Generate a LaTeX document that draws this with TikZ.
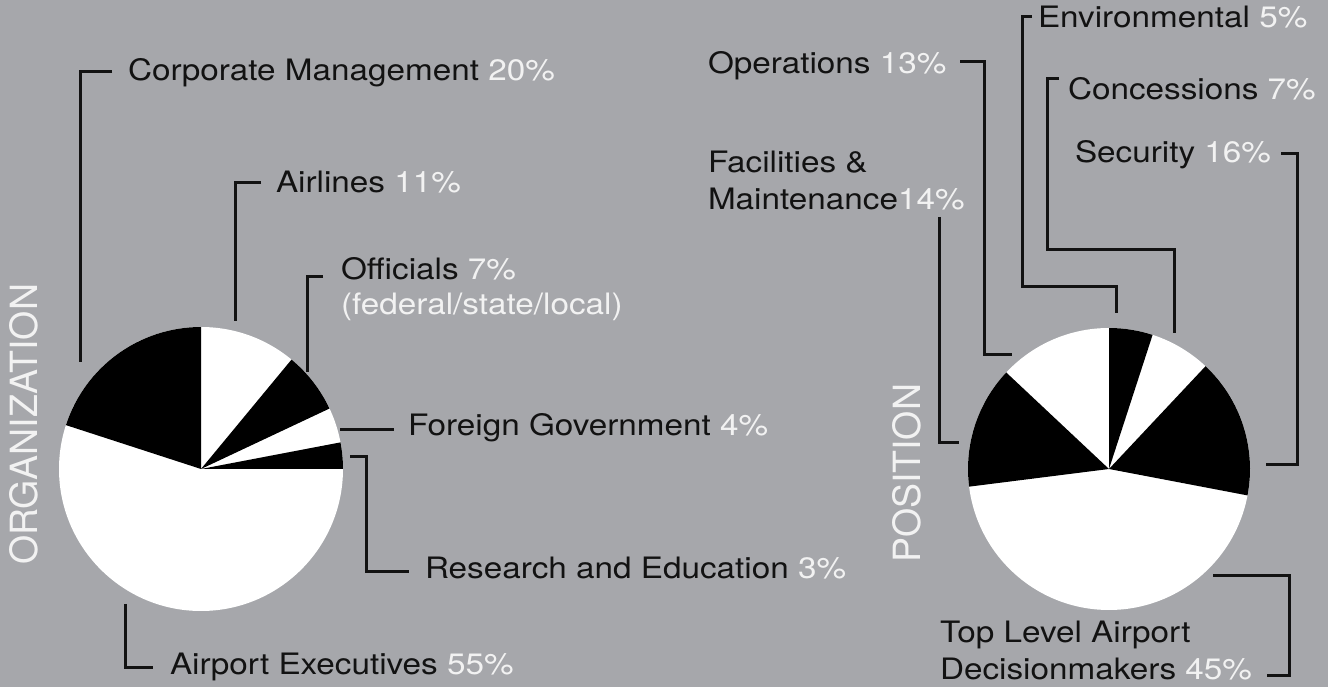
\documentclass[tikz,border=0pt]{standalone}
\usepackage{fontspec}
\newfontfamily\lblfont{TeX Gyre Heros}[FakeStretch=1.128]
\newfontfamily\ttlfont{TeX Gyre Heros}
\definecolor{bg}{RGB}{166,167,171}
\definecolor{ink}{RGB}{18,18,18}
\definecolor{pct}{RGB}{242,242,242}
\tikzset{
  lbl/.style={anchor=base west, inner sep=0pt, outer sep=0pt, text=ink, font=\lblfont\fontsize{29.5}{37}\selectfont},
  ttl/.style={anchor=base west, inner sep=0pt, outer sep=0pt, text=pct, rotate=90, font=\ttlfont\fontsize{37.5}{40}\selectfont},
  lead/.style={draw=ink, line width=3pt, line join=miter},
  wedge/.style={fill=black},
  disc/.style={fill=white}
}
\newcommand{\pc}[1]{\textcolor{pct}{#1}}
\begin{document}
\begin{tikzpicture}[x=1pt,y=1pt]
\fill[bg] (0,0) rectangle (1328,687);
\useasboundingbox (0,0) rectangle (1328,687);

% ---------- left pie ----------
\coordinate (lc) at (201,218);
\fill[disc] (lc) circle[radius=142];
\fill[wedge] (lc) -- ++(25.2:142) arc[start angle=25.2, end angle=50.4, radius=142] -- cycle;
\fill[wedge] (lc) -- ++(0:142) arc[start angle=0, end angle=10.8, radius=142] -- cycle;
\fill[wedge] (lc) -- ++(90:142) arc[start angle=90, end angle=162, radius=142] -- cycle;

% ---------- right pie ----------
\coordinate (rc) at (1109,218);
\fill[disc] (rc) circle[radius=141];
\fill[wedge] (rc) -- ++(72:141) arc[start angle=72, end angle=90, radius=141] -- cycle;
\fill[wedge] (rc) -- ++(-10.8:141) arc[start angle=-10.8, end angle=46.8, radius=141] -- cycle;
\fill[wedge] (rc) -- ++(136.8:141) arc[start angle=136.8, end angle=187.2, radius=141] -- cycle;

% ---------- titles ----------
\node[ttl] (org) at (37,122) {ORGANIZATION};
\node[ttl] (pos) at (920,124) {POSITION};

% ---------- left labels ----------
\node[lbl] (corp) at (128,606) {Corporate Management \pc{20\%}};
\node[lbl] (air) at (276,494) {Airlines \pc{11\%}};
\node[lbl] (off) at (341,407) {Officials \pc{7\%}};
\node[lbl] (offb) at (341,372) {\pc{(federal/state/local)}};
\node[lbl] (for) at (408,251) {Foreign Government \pc{4\%}};
\node[lbl] (res) at (425,108) {Research and Education \pc{3\%}};
\node[lbl] (aex) at (170,12) {Airport Executives \pc{55\%}};

% ---------- right labels ----------
\node[lbl] (ops) at (708,613) {Operations \pc{13\%}};
\node[lbl] (env) at (1038,659) {Environmental \pc{5\%}};
\node[lbl] (con) at (1068,587) {Concessions \pc{7\%}};
\node[lbl] (sec) at (1075,524) {Security \pc{16\%}};
\node[lbl] (fac) at (708,514) {Facilities \&};
\node[lbl] (facb) at (708,477) {Maintenance\pc{14\%}};
\node[lbl] (top) at (940,44) {Top Level Airport};
\node[lbl] (topb) at (940,7) {Decisionmakers \pc{45\%}};

% ---------- leader end points ----------
\coordinate (corpT) at (112,615); \coordinate (corpS) at (80,325);
\coordinate (airT) at (261,504);  \coordinate (airS) at (235,366);
\coordinate (offT) at (323,410);  \coordinate (offS) at (307,315);
\coordinate (forT) at (394,257);  \coordinate (forS) at (340,257);
\coordinate (resT) at (409,115);  \coordinate (resS) at (350,230); \coordinate (resM) at (366,230);
\coordinate (aexT) at (153,19);   \coordinate (aexS) at (125,83);

\coordinate (envT) at (1032,670); \coordinate (envM) at (1022,400); \coordinate (envS) at (1116,374);
\coordinate (conT) at (1059,608); \coordinate (conM) at (1047,437); \coordinate (conS) at (1174,354);
\coordinate (secT) at (1281,533); \coordinate (secS) at (1266,222);
\coordinate (opsT) at (960,625);  \coordinate (opsS) at (1012,332);
\coordinate (facT) at (939,470);  \coordinate (facS) at (959,244);
\coordinate (topT) at (1267,11);  \coordinate (topS) at (1213,111);

% ---------- leaders ----------
\draw[lead] (corpT) -| (corpS);
\draw[lead] (airT) -| (airS);
\draw[lead] (offT) -| (offS);
\draw[lead] (forS) -- (forT);
\draw[lead] (resS) -- (resM) |- (resT);
\draw[lead] (aexS) |- (aexT);

\draw[lead] (envT) -| (envM) -| (envS);
\draw[lead] (conT) -| (conM) -| (conS);
\draw[lead] (secT) -| (1297,222) -- (secS);
\draw[lead] (opsT) -| (984,332) -- (opsS);
\draw[lead] (facT) |- (facS);
\draw[lead] (topS) -| (1289,11) -- (topT);
\end{tikzpicture}
\end{document}
